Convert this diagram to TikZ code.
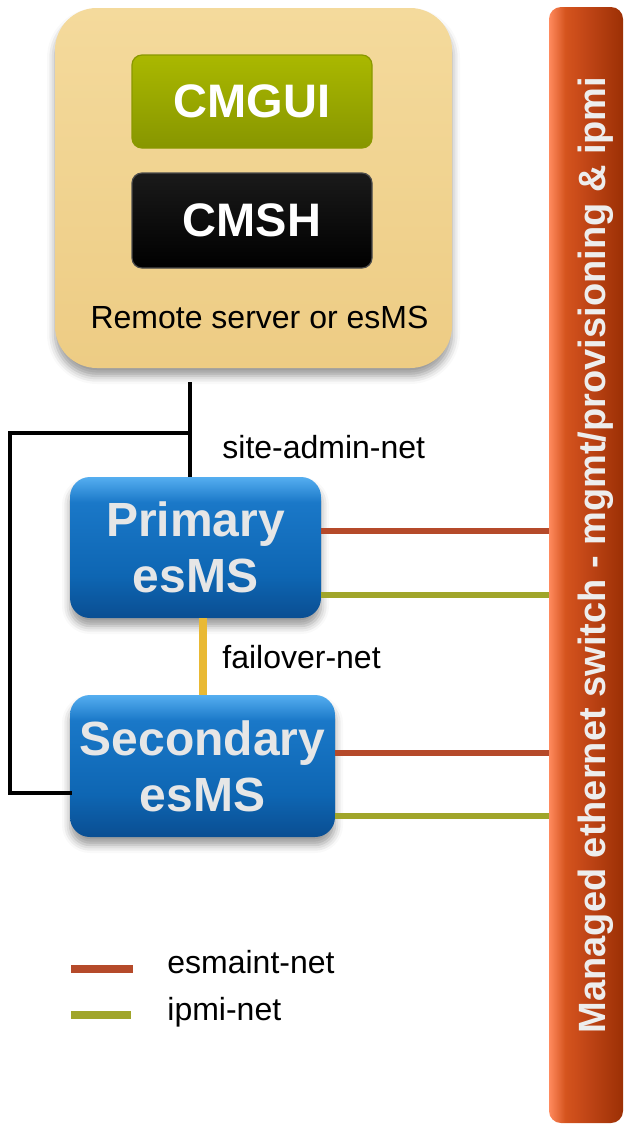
\documentclass[tikz,border=0pt]{standalone}
\usepackage{fontspec}
\setmainfont{Liberation Sans}
\usetikzlibrary{shadows.blur,calc}

\definecolor{hostTop}{HTML}{F4DA9C}
\definecolor{hostBot}{HTML}{EDCC84}
\definecolor{guiTop}{HTML}{AAB800}
\definecolor{guiBot}{HTML}{879600}
\definecolor{guiEdge}{HTML}{8A9800}
\definecolor{shTop}{HTML}{1A1A1A}
\definecolor{shBot}{HTML}{000000}
\definecolor{esmsTop}{HTML}{55AEF0}
\definecolor{esmsUp}{HTML}{1A78C8}
\definecolor{esmsMid}{HTML}{0E66B3}
\definecolor{esmsBot}{HTML}{0A4E92}
\definecolor{esmsText}{HTML}{E6E6E6}
\definecolor{esmRed}{HTML}{B54A2A}
\definecolor{ipmiGreen}{HTML}{A0A52A}
\definecolor{foYellow}{HTML}{E9B934}
\definecolor{swLeft}{HTML}{FF8A5E}
\definecolor{swMid}{HTML}{D5541E}
\definecolor{swMid2}{HTML}{BE4415}
\definecolor{swRight}{HTML}{9C3005}
\definecolor{swText}{HTML}{EDEDED}

% colour ramps for the esMS boxes and the switch bar
% (the path is mapped onto the 25bp..75bp part of each ramp)
\pgfdeclareverticalshading{esmsramp}{100bp}{color(0bp)=(esmsBot);
  color(25bp)=(esmsBot); color(40bp)=(esmsMid); color(66bp)=(esmsUp);
  color(75bp)=(esmsTop); color(100bp)=(esmsTop)}
\pgfdeclarehorizontalshading{switchramp}{100bp}{color(0bp)=(swLeft);
  color(25bp)=(swLeft); color(36bp)=(swMid); color(52bp)=(swMid2);
  color(75bp)=(swRight); color(100bp)=(swRight)}

\begin{document}
\begin{tikzpicture}[x=0.5pt,y=-0.5pt,
  boxshadow/.style={blur shadow={shadow xshift=0pt,shadow yshift=-4pt,
      shadow blur radius=4pt,shadow opacity=40}},
  hostbox/.style={rounded corners=21pt,minimum width=198.5pt,minimum height=180pt,
      inner sep=0pt,top color=hostTop,bottom color=hostBot,boxshadow},
  toolbox/.style={rounded corners=5pt,minimum width=120pt,inner sep=0pt,
      text=white,font=\fontsize{23.5}{28}\selectfont\bfseries},
  esmsbox/.style={rounded corners=10pt,inner sep=0pt,shading=esmsramp,
      boxshadow,text=esmsText,
      align=center,font=\fontsize{24}{28}\selectfont\bfseries},
  switchbar/.style={rounded corners=6pt,minimum width=37pt,minimum height=558pt,
      inner sep=0pt,shading=switchramp},
  netlabel/.style={anchor=base west,inner sep=0pt,font=\fontsize{16}{19}\selectfont},
  esmaint/.style={line width=3pt,draw=esmRed},
  ipmi/.style={line width=3pt,draw=ipmiGreen},
  failover/.style={line width=4pt,draw=foYellow},
  siteadmin/.style={line width=2pt,draw=black},
  legendline/.style={line width=4pt}]

\useasboundingbox (0,0) rectangle (623,1124);

% remote server with the two management front ends
\node[hostbox] (host) at (253.5,188) {};
\node[toolbox,minimum height=46.5pt,top color=guiTop,bottom color=guiBot,
      draw=guiEdge,line width=0.6pt] (gui) at (252,101.5) {CMGUI};
\node[toolbox,minimum height=47.5pt,top color=shTop,bottom color=shBot,
      draw=black!70,line width=0.6pt] (sh) at (252,220.5) {CMSH};
\node[anchor=base,font=\fontsize{16}{19}\selectfont] (hostlbl) at (259.5,328)
      {Remote server or esMS};

% management switch on the right
\node[switchbar] (sw) at (586,565) {};
\node[rotate=90,anchor=base,text=swText,font=\fontsize{19}{22}\selectfont\bfseries]
      (swlbl) at (605,555) {Managed ethernet switch - mgmt/provisioning \& ipmi};

% the two esMS nodes
\node[esmsbox,minimum width=125.5pt,minimum height=70.5pt] (pri) at (195.5,547.5)
      {Primary\\esMS};
\node[esmsbox,minimum width=132.5pt,minimum height=71pt] (sec) at (202.5,766)
      {Secondary\\esMS};

% site-admin-net wiring
\coordinate (top) at (190,382);
\coordinate (j1) at (190,433);
\coordinate (c1) at (10,433);
\coordinate (c2) at (10,793);
\draw[siteadmin] (top) -- (top |- pri.north);
\draw[siteadmin,line cap=rect] (j1) -- (c1) -- (c2) -- (sec.west |- c2);
\node[netlabel] (salbl) at (222,458) {site-admin-net};

% failover-net
\coordinate (fx) at (203,0);
\draw[failover] (pri.south -| fx) -- (sec.north -| fx);
\node[netlabel] (folbl) at (222,668) {failover-net};

% esmaint-net and ipmi-net to the switch
\coordinate (r1) at (0,531);
\coordinate (g1) at (0,595);
\coordinate (r2) at (0,753);
\coordinate (g2) at (0,816);
\draw[esmaint] (pri.east |- r1) -- (sw.west |- r1);
\draw[ipmi] (pri.east |- g1) -- (sw.west |- g1);
\draw[esmaint] (sec.east |- r2) -- (sw.west |- r2);
\draw[ipmi] (sec.east |- g2) -- (sw.west |- g2);

% legend
\coordinate (l1a) at (71,969);
\coordinate (l1b) at (133,969);
\coordinate (l2a) at (71,1015);
\coordinate (l2b) at (131,1015);
\draw[legendline,draw=esmRed] (l1a) -- (l1b);
\draw[legendline,draw=ipmiGreen] (l2a) -- (l2b);
\node[netlabel] (lg1) at (167,973) {esmaint-net};
\node[netlabel] (lg2) at (167,1020) {ipmi-net};
\end{tikzpicture}
\end{document}
